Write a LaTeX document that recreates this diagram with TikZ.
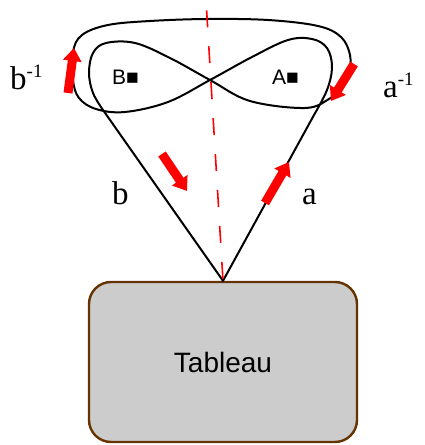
\documentclass[tikz,border=0pt]{standalone}
\usepackage{fontspec}
\setmainfont{Liberation Serif}
\setsansfont{Liberation Sans}
\usetikzlibrary{arrows.meta}
\definecolor{boxbrown}{RGB}{102,51,0}
\definecolor{boxgray}{RGB}{204,204,204}

\begin{document}
\begin{tikzpicture}[
    x=1pt, y=1pt,
    loopline/.style={
        draw=black,
        line width=2pt,
        line join=round
    },
    mirror/.style={
        draw=red,
        line width=1.6pt,
        dash pattern=on 17pt off 19pt,
        dash phase=34pt
    },
    redarrow/.style={
        draw=red,
        line width=9pt,
        -{Triangle[length=13pt,width=18pt]}
    },
    pathlabel/.style={
        anchor=base west,
        inner sep=0pt,
        font=\fontsize{33}{33}\selectfont
    },
    pointlabel/.style={
        anchor=base west,
        inner sep=0pt,
        font=\sffamily\fontsize{21}{21}\selectfont
    },
    tableaubox/.style={
        rectangle,
        rounded corners=22pt,
        draw=boxbrown,
        fill=boxgray,
        line width=2.4pt,
        minimum width=268pt,
        minimum height=160pt,
        font=\sffamily\fontsize{28}{28}\selectfont
    }
]
\useasboundingbox (0,0) rectangle (425,445);
\node (tableau) [tableaubox] at (223,83) {Tableau};
\coordinate (apex) at (tableau.north);
\coordinate (rv) at (314,330);
\coordinate (lv) at (103,335);
\coordinate (mid) at (210,365);
\coordinate (top) at (206,445);
% the loop a b^-1 a^-1 b around the two points
\draw [loopline] (apex) -- plot [smooth, tension=0.6] coordinates {
    (rv) (327,355) (332,378) (327,397) (312,406) (288,405) (252,388)
    (mid) (168,343) (125,333) (96,336) (79,347) (73,365) (73,393)
    (82,410) (108,420) (150,424) (207,426) (268,425) (318,419)
    (341,408) (350,390) (349,372) (342,357) (329,346) (305,337)
    (250,344) (mid) (170,387) (135,402) (106,402) (93,392) (89,372)
    (93,352) (lv)} -- cycle;
\draw [mirror] (apex) -- (top);
% direction arrows
\coordinate (atail) at (265,242);
\coordinate (ahead) at (289,283);
\coordinate (btail) at (162,291);
\coordinate (bhead) at (187,254);
\coordinate (aitail) at (354,381);
\coordinate (aihead) at (331,344);
\coordinate (bitail) at (68,352);
\coordinate (bihead) at (74,397);
\draw [redarrow] (atail) -- (ahead);
\draw [redarrow] (btail) -- (bhead);
\draw [redarrow] (aitail) -- (aihead);
\draw [redarrow] (bitail) -- (bihead);
\node (alabel) [pathlabel] at (302,240) {a};
\node (blabel) [pathlabel] at (112,240) {b};
\node (ailabel) [pathlabel] at (383,347) {a\raisebox{12pt}{\fontsize{19}{19}\selectfont -1}};
\node (bilabel) [pathlabel] at (10,355) {b\raisebox{12pt}{\fontsize{19}{19}\selectfont -1}};
\node (pointB) [pointlabel] at (112,360) {B■};
\node (pointA) [pointlabel] at (272,360) {A■};
\end{tikzpicture}
\end{document}
